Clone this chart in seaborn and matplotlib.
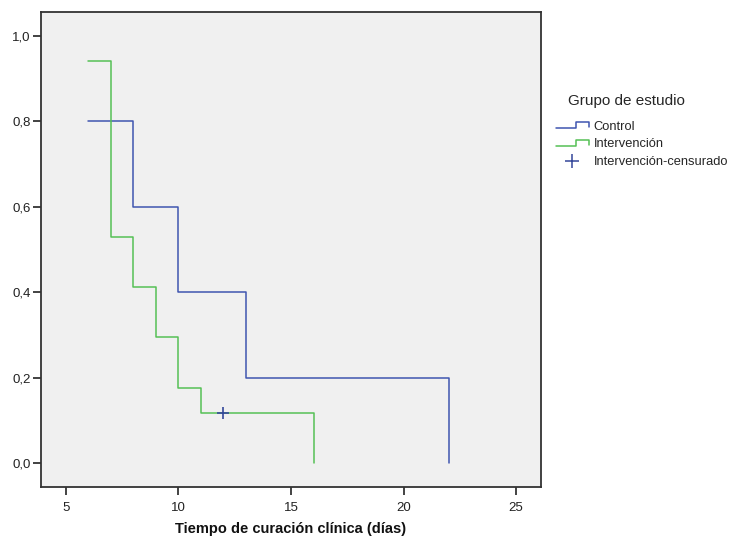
import matplotlib
matplotlib.use("Agg")
import matplotlib.pyplot as plt
import seaborn as sns
import pandas as pd
from matplotlib.lines import Line2D
from matplotlib.legend_handler import HandlerBase

# Data (Kaplan-Meier step curves)
control_t = [6, 8, 10, 13, 22]
control_s = [0.80, 0.60, 0.40, 0.20, 0.00]
interv_t = [6, 7, 8, 9, 10, 11, 16]
interv_s = [0.941, 0.529, 0.412, 0.294, 0.176, 0.118, 0.00]
censor_t = [12]
censor_s = [0.118]
groups = ["Control", "Intervención"]
x_ticks = [5, 10, 15, 20, 25]
y_ticks = [0.0, 0.2, 0.4, 0.6, 0.8, 1.0]

sns.set_theme(style="ticks")
plt.rcParams['font.family'] = ['Liberation Sans', 'DejaVu Sans']

c_blue = "#3f55b0"
c_green = "#55c055"
c_cens = "#34479a"

df = pd.concat([
    pd.DataFrame({"t": control_t, "s": control_s, "g": groups[0]}),
    pd.DataFrame({"t": interv_t, "s": interv_s, "g": groups[1]}),
], ignore_index=True)
cdf = pd.DataFrame({"t": censor_t, "s": censor_s})

fig = plt.figure(figsize=(7.32, 5.36), dpi=100)
ax = fig.add_axes([41/732, 49/536, 500/732, 475/536])
ax.set_facecolor("#f0f0f0")

sns.lineplot(data=df, x="t", y="s", hue="g", palette={groups[0]: c_blue, groups[1]: c_green},
             estimator=None, sort=False, drawstyle="steps-post", linewidth=1.1,
             legend=False, ax=ax)
sns.scatterplot(data=cdf, x="t", y="s", marker="+", s=80, color=c_cens, linewidth=1.2,
                legend=False, ax=ax, zorder=5)

ax.set_xlim(3.89, 26.11)
ax.set_ylim(-0.056, 1.056)
ax.set_xticks(x_ticks)
ax.set_xticklabels([str(v) for v in x_ticks])
ax.set_yticks(y_ticks)
ax.set_yticklabels([f"{v:.1f}".replace(".", ",") for v in y_ticks])
ax.tick_params(axis="both", length=5.5, width=1.2, color="#222222", labelsize=9.5, labelcolor="#222222")
ax.tick_params(axis="x", pad=5)
ax.tick_params(axis="y", pad=2)
for sp in ax.spines.values():
    sp.set_visible(True)
    sp.set_linewidth(1.3)
    sp.set_color("#333333")
ax.set_xlabel("Tiempo de curación clínica (días)", fontsize=10.5, fontweight="bold", labelpad=6, color="#111111")
ax.set_ylabel("")


class StepHandler(HandlerBase):
    def __init__(self, color):
        super().__init__()
        self.color = color

    def create_artists(self, legend, orig_handle, xdescent, ydescent, width, height, fontsize, trans):
        x0, x1 = -xdescent, -xdescent + width
        y0, y1 = -ydescent + height * 0.15, -ydescent + height * 0.85
        xm = x0 + width * 0.6
        ln = Line2D([x0, xm, xm, x1, x1], [y0, y0, y1, y1, y1 - height * 0.6],
                    color=self.color, linewidth=1.1, transform=trans)
        return [ln]


h_c = Line2D([], [], color=c_blue)
h_i = Line2D([], [], color=c_green)
h_x = Line2D([], [], color=c_cens, marker="+", linestyle="none", markersize=10, markeredgewidth=1.1)
leg = fig.legend([h_c, h_i, h_x], ["Control", "Intervención", "Intervención-censurado"],
                 handler_map={h_c: StepHandler(c_blue), h_i: StepHandler(c_green)},
                 title="Grupo de estudio", loc="upper left", bbox_to_anchor=(556/732, 1 - 94/536),
                 frameon=False, fontsize=9.3, title_fontsize=11, handlelength=2.55,
                 handletextpad=0.38, labelspacing=0.45, borderaxespad=0, borderpad=0)
leg._legend_box.align = "left"
leg._legend_box.sep = 9
leg.get_title().set_position((12, 0))

fig.savefig("out.png", dpi=100)
